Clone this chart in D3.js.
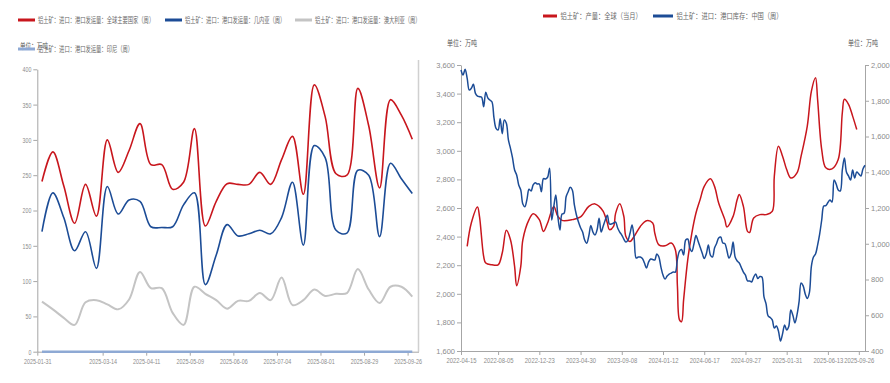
<!DOCTYPE html>
<html><head><meta charset="utf-8">
<script src="https://cdn.jsdelivr.net/npm/d3@7"></script>
<style>
body{margin:0;background:#fff;}
svg{display:block;font-family:"Liberation Sans","Noto Sans CJK SC",sans-serif;}
.cjk{font-family:"Noto Sans CJK SC",sans-serif;}
</style>
</head><body>
<svg id="c" width="890" height="383"></svg>
<script>
// ---------- Left chart data (weekly) ----------
const leftDates = ["2025-02-03","2025-02-10","2025-02-17","2025-02-24","2025-03-03","2025-03-10","2025-03-17","2025-03-24","2025-03-31","2025-04-07","2025-04-14","2025-04-21","2025-04-28","2025-05-05","2025-05-12","2025-05-19","2025-05-26","2025-06-02","2025-06-09","2025-06-16","2025-06-23","2025-06-30","2025-07-07","2025-07-14","2025-07-21","2025-07-28","2025-08-04","2025-08-11","2025-08-18","2025-08-25","2025-09-01","2025-09-08","2025-09-15","2025-09-22","2025-09-29"];
const globalShip = [241,283,235,182,237,192,300,254,285,323,265,265,230,240,316,178,213,238,237,237,254,237,272,305,223,378,333,252,250,373,320,232,357,335,301];
const guineaShip = [170,225,190,143,170,118,234,195,215,213,177,176,177,208,225,95,137,180,164,167,172,167,190,240,151,292,275,172,168,257,250,163,267,245,224];
const australiaShip = [71,60,48,38,70,73,67,60,74,113,90,90,55,38,92,82,73,61,72,72,83,73,105,66,73,88,79,82,83,117,88,69,92,92,78];
const indonesiaShip = [0,0,0,0,0,0,0,0,0,0,0,0,0,0,0,0,0,0,0,0,0,0,0,0,0,0,0,0,0,0,0,0,0,0,0];
const leftTicks = ["2025-01-31","2025-03-14","2025-04-11","2025-05-09","2025-06-06","2025-07-04","2025-08-01","2025-08-29","2025-09-26"];
const leftYTicks = [0,50,100,150,200,250,300,350,400];
const leftLegend = ["铝土矿：进口：港口发运量：全球主要国家（周）","铝土矿：进口：港口发运量：几内亚（周）","铝土矿：进口：港口发运量：澳大利亚（周）","铝土矿：进口：港口发运量：印尼（周）"];

// ---------- Right chart data (category axis) ----------
const rightTickLabels = ["2022-04-15","2022-08-05","2022-12-23","2023-04-30","2023-09-08","2024-01-12","2024-06-17","2024-09-27","2025-01-31","2025-06-13","2025-09-26"];
const rightTickIdx = [0,18,38,58,78,98,118,138,158,178,193];
const portStock = [3565,3530,3570,3507,3425,3437,3465,3402,3383,3378,3374,3308,3410,3370,3355,3343,3230,3157,3145,3225,3120,3215,3192,3076,3017,2950,2866,2831,2761,2726,2628,2609,2660,2731,2719,2761,2777,2768,2768,2714,2805,2803,2815,2878,2516,2609,2691,2539,2446,2558,2563,2679,2714,2745,2726,2621,2551,2502,2462,2432,2376,2353,2404,2478,2432,2411,2446,2528,2432,2474,2516,2550,2488,2488,2495,2502,2460,2432,2411,2383,2362,2376,2423,2481,2390,2250,2257,2257,2247,2215,2180,2222,2243,2240,2236,2278,2257,2187,2131,2103,2124,2138,2145,2152,2152,2243,2299,2310,2271,2376,2383,2320,2296,2348,2408,2369,2327,2285,2247,2278,2341,2271,2257,2320,2352,2390,2397,2355,2352,2303,2250,2278,2362,2257,2229,2215,2184,2152,2131,2090,2090,2083,2117,2138,2107,2121,2117,1978,1929,1845,1834,1817,1761,1775,1740,1670,1720,1782,1747,1771,1887,1850,1796,1852,1943,2076,2055,1999,1967,2006,2194,2257,2278,2341,2418,2516,2614,2617,2638,2656,2642,2796,2768,2726,2719,2866,2950,2852,2824,2796,2866,2810,2852,2838,2824,2873,2899];
const prodIdx = [3,5,8,9,11,12,15,18,20,22,24,26,27,29,30,33,35,38,40,42,45,47,49,54,58,62,65,67,69,71,72,74,75,77,79,80,82,84,87,90,93,94,96,99,102,104,105,106,107,108,110,112,114,116,118,121,123,125,128,129,132,134,135,137,139,140,142,145,148,151,152,154,156,158,160,163,165,168,170,172,173,175,177,180,183,185,186,188,190,192];
const prodVal = [985,1116,1206,1150,929,892,882,882,948,1075,1022,873,765,873,1022,1135,1168,1135,1069,1116,1209,1153,1131,1135,1150,1209,1223,1209,1181,1116,1079,1097,1170,1224,1153,1041,1013,1041,1097,1129,1116,1060,994,989,1004,966,761,574,564,686,910,1060,1172,1247,1321,1363,1321,1228,1135,1094,1153,1247,1275,1209,1069,1063,1144,1163,1163,1181,1377,1546,1490,1415,1368,1397,1490,1658,1854,1929,1808,1527,1425,1419,1471,1733,1808,1780,1714,1639];
const rightLegend = ["铝土矿：产量：全球（当月）","铝土矿：进口：港口库存：中国（周）"];
const leftAxisTicks = [1600,1800,2000,2200,2400,2600,2800,3000,3200,3400,3600];
const rightAxisTicks = [400,600,800,1000,1200,1400,1600,1800,2000];

const RED = "#c8161d", BLUE = "#1c4c96", GRAY = "#c4c4c4", STEEL = "#8ea9d4";
const AX = "#a6a6a6", TXT = "#8c8c8c", LEG = "#666";

const svg = d3.select("#c");
function squeeze(sel, f){ sel.each(function(){ const l=this.getComputedTextLength(); this.setAttribute("textLength", l*f); this.setAttribute("lengthAdjust","spacingAndGlyphs"); }); }
const parse = d3.timeParse("%Y-%m-%d");

// ================= LEFT CHART =================
{
  const x = d3.scaleTime().domain([parse("2025-01-31"), parse("2025-10-03")]).range([37.3, 418.5]);
  const y = d3.scaleLinear().domain([0,400]).range([351.7, 69.3]);
  const g = svg.append("g");
  g.append("line").attr("x1",418.5).attr("x2",418.5).attr("y1",60).attr("y2",351.7).attr("stroke","#d0d0d0").attr("stroke-width",1.5);
  const yAx = g.append("g").attr("transform","translate(37.3,0)").call(d3.axisLeft(y).tickValues(leftYTicks).tickSize(4).tickSizeOuter(0).tickPadding(2));
  const xAx = g.append("g").attr("transform","translate(0,351.7)").call(d3.axisBottom(x).tickValues(leftTicks.map(parse)).tickFormat(d3.timeFormat("%Y-%m-%d")).tickSize(4).tickSizeOuter(0).tickPadding(3));
  [yAx,xAx].forEach(a=>{a.selectAll("path,line").attr("stroke",AX);a.selectAll("text").attr("fill",TXT).attr("font-size",7.5);});
  squeeze(yAx.selectAll("text"),0.7);
  squeeze(xAx.selectAll("text"),0.72);
  const dates = leftDates.map(parse);
  const line = arr => d3.line().x((d,i)=>x(dates[i])).y(d=>y(d)).curve(d3.curveCatmullRom.alpha(0.5))(arr);
  g.append("path").attr("d",line(australiaShip)).attr("fill","none").attr("stroke",GRAY).attr("stroke-width",2);
  g.append("path").attr("d",line(globalShip)).attr("fill","none").attr("stroke",RED).attr("stroke-width",1.6);
  g.append("path").attr("d",line(guineaShip)).attr("fill","none").attr("stroke",BLUE).attr("stroke-width",1.6);
  g.append("path").attr("d",line(indonesiaShip)).attr("fill","none").attr("stroke",STEEL).attr("stroke-width",2.5);

  const items = [{t:leftLegend[0],c:RED,x:18,y:20},{t:leftLegend[1],c:BLUE,x:165,y:20},{t:leftLegend[2],c:GRAY,x:295,y:20},{t:leftLegend[3],c:STEEL,x:18,y:49}];
  const u = g.append("text").attr("class","cjk").attr("x",20).attr("y",49).attr("fill","#555").attr("font-size",8).text("单位：万吨");
  squeeze(u,0.7);
  items.forEach(it=>{
    g.append("line").attr("x1",it.x).attr("x2",it.x+17).attr("y1",it.y).attr("y2",it.y).attr("stroke",it.c).attr("stroke-width",3);
    const t = g.append("text").attr("class","cjk").attr("x",it.x+20).attr("y",it.y+3).attr("fill",LEG).attr("font-size",8).text(it.t);
    squeeze(t,0.66);
  });
}

// ================= RIGHT CHART =================
{
  const x = d3.scaleLinear().domain([0,196]).range([461,865]);
  const yL = d3.scaleLinear().domain([1600,3600]).range([351,65]);
  const yR = d3.scaleLinear().domain([400,2000]).range([351,65]);
  const g = svg.append("g");
  const fmt = d3.format(",");
  const aL = g.append("g").attr("transform","translate(461,0)").call(d3.axisLeft(yL).tickValues(leftAxisTicks).tickFormat(fmt).tickSize(4).tickSizeOuter(0).tickPadding(2));
  const aR = g.append("g").attr("transform","translate(865,0)").call(d3.axisRight(yR).tickValues(rightAxisTicks).tickFormat(fmt).tickSize(4).tickSizeOuter(0).tickPadding(2));
  const aX = g.append("g").attr("transform","translate(0,351)").call(d3.axisBottom(x).tickValues(rightTickIdx).tickFormat((d,i)=>rightTickLabels[i]).tickSize(4).tickSizeOuter(0).tickPadding(3));
  [aL,aR,aX].forEach(a=>{a.selectAll("path,line").attr("stroke",AX);a.selectAll("text").attr("fill",TXT).attr("font-size",7.5);});
  squeeze(aX.selectAll("text"),0.78);
  const lb = d3.line().x((d,i)=>x(i)).y(d=>yL(d)).curve(d3.curveCatmullRom.alpha(0.5));
  const lr = d3.line().x((d,i)=>x(prodIdx[i])).y(d=>yR(d)).curve(d3.curveCatmullRom.alpha(0.5));
  g.append("path").attr("d",lr(prodVal)).attr("fill","none").attr("stroke",RED).attr("stroke-width",1.5);
  g.append("path").attr("d",lb(portStock)).attr("fill","none").attr("stroke",BLUE).attr("stroke-width",1.5);

  const items = [{t:rightLegend[0],c:RED,x:543,w:14},{t:rightLegend[1],c:BLUE,x:653,w:20}];
  items.forEach(it=>{
    g.append("line").attr("x1",it.x).attr("x2",it.x+it.w).attr("y1",16).attr("y2",16).attr("stroke",it.c).attr("stroke-width",3);
    const t = g.append("text").attr("class","cjk").attr("x",it.x+it.w+3.5).attr("y",19).attr("fill",LEG).attr("font-size",8).text(it.t);
    squeeze(t,0.78);
  });
  [447,848].forEach(px=>{
    const t = g.append("text").attr("class","cjk").attr("x",px).attr("y",46).attr("fill","#555").attr("font-size",8).text("单位：万吨");
    squeeze(t,0.75);
  });
}
</script>
</body></html>
